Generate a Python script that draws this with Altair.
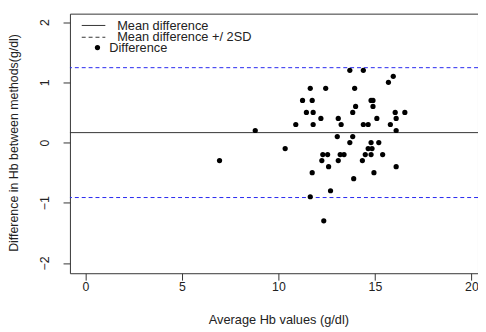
import altair as alt
import pandas as pd

# Bland-Altman data
avg_hb = [6.95, 8.8, 10.35, 11.65, 11.25, 11.75, 11.45, 11.8, 10.9, 11.8,
          11.75, 13.7, 14.4, 15.95, 15.7, 12.45, 13.95, 14.8, 14.9, 14.0,
          14.9, 13.85, 16.05, 16.55, 12.2, 13.1, 13.25, 14.4, 14.65, 15.1,
          15.8, 16.1, 16.1, 13.05, 13.85, 13.7, 14.8, 15.2, 14.65, 14.85,
          12.3, 12.55, 13.2, 13.4, 14.5, 14.8, 15.4, 12.25, 13.1, 14.35,
          12.6, 16.1, 14.95, 13.9, 12.7, 11.65, 12.35]
diff_hb = [-0.3, 0.2, -0.1, 0.9, 0.7, 0.7, 0.5, 0.5, 0.3, 0.3,
           -0.5, 1.2, 1.2, 1.1, 1.0, 0.9, 0.9, 0.7, 0.7, 0.6,
           0.6, 0.5, 0.5, 0.5, 0.4, 0.4, 0.3, 0.3, 0.3, 0.4,
           0.3, 0.4, 0.2, 0.1, 0.1, 0.0, 0.0, 0.0, -0.1, -0.1,
           -0.2, -0.2, -0.2, -0.2, -0.2, -0.2, -0.2, -0.3, -0.3, -0.3,
           -0.4, -0.4, -0.5, -0.6, -0.8, -0.9, -1.3]
mean_diff = [0.165]
limits = [1.243, -0.913]
legend_labels = ["Mean difference", "Mean difference +/ 2SD", "Difference"]
x_ticks = [0, 5, 10, 15, 20]
y_ticks = [-2, -1, 0, 1, 2]

FONT = "Liberation Sans"
TXT = "#222222"

x_scale = alt.Scale(domain=[-0.8, 20.34], nice=False, zero=False)
y_scale = alt.Scale(domain=[-2.17, 2.14], nice=False, zero=False)

x_axis = alt.Axis(values=x_ticks, format="d", grid=False, domain=False, tickSize=7,
                  tickColor="#333333", labelFontSize=12.5, labelColor=TXT,
                  labelFont=FONT, labelPadding=1, title="Average Hb values (g/dl)",
                  titleFont=FONT, titleFontSize=13, titleFontWeight="normal",
                  titleColor=TXT, titleX=212, titleY=47, titleAlign="center",
                  titleBaseline="middle")
y_axis = alt.Axis(values=y_ticks, format="d", grid=False, domain=False, tickSize=7,
                  tickColor="#333333", labelFontSize=12.5, labelColor=TXT,
                  labelFont=FONT, labelAngle=270, labelAlign="center",
                  labelBaseline="middle", labelPadding=19,
                  title="Difference in Hb between methods(g/dl)",
                  titleFont=FONT, titleFontSize=12.6, titleFontWeight="normal",
                  titleColor=TXT, titleX=-57, titleY=131, titleAngle=270,
                  titleAlign="center", titleBaseline="middle")

pts = pd.DataFrame({"avg": avg_hb, "diff": diff_hb})
points = alt.Chart(pts).mark_circle(size=28, color="black", opacity=1).encode(
    x=alt.X("avg:Q", scale=x_scale, axis=x_axis),
    y=alt.Y("diff:Q", scale=y_scale, axis=y_axis),
)

mean_rule = alt.Chart(pd.DataFrame({"diff": mean_diff})).mark_rule(
    color="#333333", strokeWidth=1).encode(y=alt.Y("diff:Q", scale=y_scale))

limit_rules = alt.Chart(pd.DataFrame({"diff": limits})).mark_rule(
    color="#2626f0", strokeWidth=1, strokeDash=[4, 3]).encode(
    y=alt.Y("diff:Q", scale=y_scale))

# legend (no border, top-left inside the plot)
leg_df = pd.DataFrame({"label": legend_labels})
leg1_line = alt.Chart(leg_df.iloc[[0]]).mark_rule(color="#333333", strokeWidth=1).encode(
    x=alt.value(12), x2=alt.value(36), y=alt.value(12))
leg2_line = alt.Chart(leg_df.iloc[[1]]).mark_rule(color="#333333", strokeWidth=1,
                                                   strokeDash=[4, 3]).encode(
    x=alt.value(12), x2=alt.value(36), y=alt.value(24))
leg3_dot = alt.Chart(leg_df.iloc[[2]]).mark_circle(size=28, color="black", opacity=1).encode(
    x=alt.value(28), y=alt.value(34.5))
leg1_txt = alt.Chart(leg_df.iloc[[0]]).mark_text(
    align="left", baseline="middle", font=FONT, fontSize=13, color=TXT).encode(
    x=alt.value(48), y=alt.value(13), text="label:N")
leg2_txt = alt.Chart(leg_df.iloc[[1]]).mark_text(
    align="left", baseline="middle", font=FONT, fontSize=13, color=TXT).encode(
    x=alt.value(48), y=alt.value(23.5), text="label:N")
leg3_txt = alt.Chart(leg_df.iloc[[2]]).mark_text(
    align="left", baseline="middle", font=FONT, fontSize=13, color=TXT).encode(
    x=alt.value(40), y=alt.value(34.7), text="label:N")

chart = alt.layer(
    limit_rules, mean_rule, points,
    leg1_line, leg2_line, leg3_dot, leg1_txt, leg2_txt, leg3_txt,
).properties(
    width=415, height=264,
    autosize=alt.AutoSizeParams(type="none"),
    padding={"left": 63, "top": 3, "right": 0, "bottom": 57},
    background="white",
).configure_view(stroke="#333333", strokeWidth=1)

chart.save("out.html", embed_options={"renderer": "svg", "actions": False})
